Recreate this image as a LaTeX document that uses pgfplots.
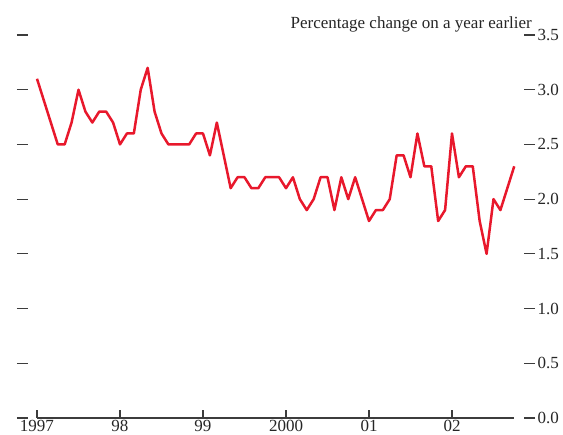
\documentclass[border=0pt]{standalone}
\usepackage{pgfplots}
\pgfplotsset{compat=1.18}
\usepackage{pgfplotstable}
\usepackage{fontspec}
\setmainfont{Liberation Serif}
\definecolor{lineRed}{RGB}{232,24,44}
\definecolor{axGray}{RGB}{60,60,60}
\pgfplotstableread{
m v
0 3.1
1 2.9
2 2.7
3 2.5
4 2.5
5 2.7
6 3.0
7 2.8
8 2.7
9 2.8
10 2.8
11 2.7
12 2.5
13 2.6
14 2.6
15 3.0
16 3.2
17 2.8
18 2.6
19 2.5
20 2.5
21 2.5
22 2.5
23 2.6
24 2.6
25 2.4
26 2.7
27 2.4
28 2.1
29 2.2
30 2.2
31 2.1
32 2.1
33 2.2
34 2.2
35 2.2
36 2.1
37 2.2
38 2.0
39 1.9
40 2.0
41 2.2
42 2.2
43 1.9
44 2.2
45 2.0
46 2.2
47 2.0
48 1.8
49 1.9
50 1.9
51 2.0
52 2.4
53 2.4
54 2.2
55 2.6
56 2.3
57 2.3
58 1.8
59 1.9
60 2.6
61 2.2
62 2.3
63 2.3
64 1.8
65 1.5
66 2.0
67 1.9
68 2.1
69 2.3
}\cpi
\begin{document}
\begin{tikzpicture}
\useasboundingbox (-17pt,-17pt) rectangle (546pt,418pt);
% y-axis ticks on both sides
\begin{axis}[
  scale only axis, width=518pt, height=383pt,
  at={(0pt,0pt)}, anchor=south west,
  xmin=0, xmax=1, ymin=0, ymax=3.5,
  axis x line=none,
  axis y line*=box,
  y axis line style={draw=none},
  ytick={0,0.5,...,3.5},
  yticklabel pos=right,
  tick align=inside,
  major tick length=11pt,
  tick style={axGray, line width=1.1pt},
  yticklabel style={/pgf/number format/fixed, /pgf/number format/fixed zerofill,
    /pgf/number format/precision=1, /pgf/number format/assume math mode=true,
    font=\fontsize{17}{20}\selectfont, text=black!85, xshift=-1pt},
]
\end{axis}
% x-axis and data
\begin{axis}[
  scale only axis, width=477.25pt, height=383pt,
  at={(20pt,0pt)}, anchor=south west,
  xmin=0, xmax=69, ymin=0, ymax=3.5,
  axis x line*=bottom, axis y line=none,
  x axis line style={-, axGray, line width=1.1pt},
  xtick={0,12,24,36,48,60},
  xticklabels={1997,98,99,2000,01,02},
  tick align=inside,
  major tick length=7.7pt,
  tick style={axGray, line width=1.1pt},
  xticklabel style={font=\fontsize{17}{20}\selectfont, text=black!85, yshift=1pt},
  clip=false,
]
\addplot[lineRed, line width=2.5pt, line join=round, no marks] table[x=m, y=v] {\cpi};
\end{axis}
\node[anchor=base east, font=\fontsize{17}{20}\selectfont, text=black!85, inner sep=0pt] at (515pt,389pt) {Percentage change on a year earlier};
\end{tikzpicture}
\end{document}
